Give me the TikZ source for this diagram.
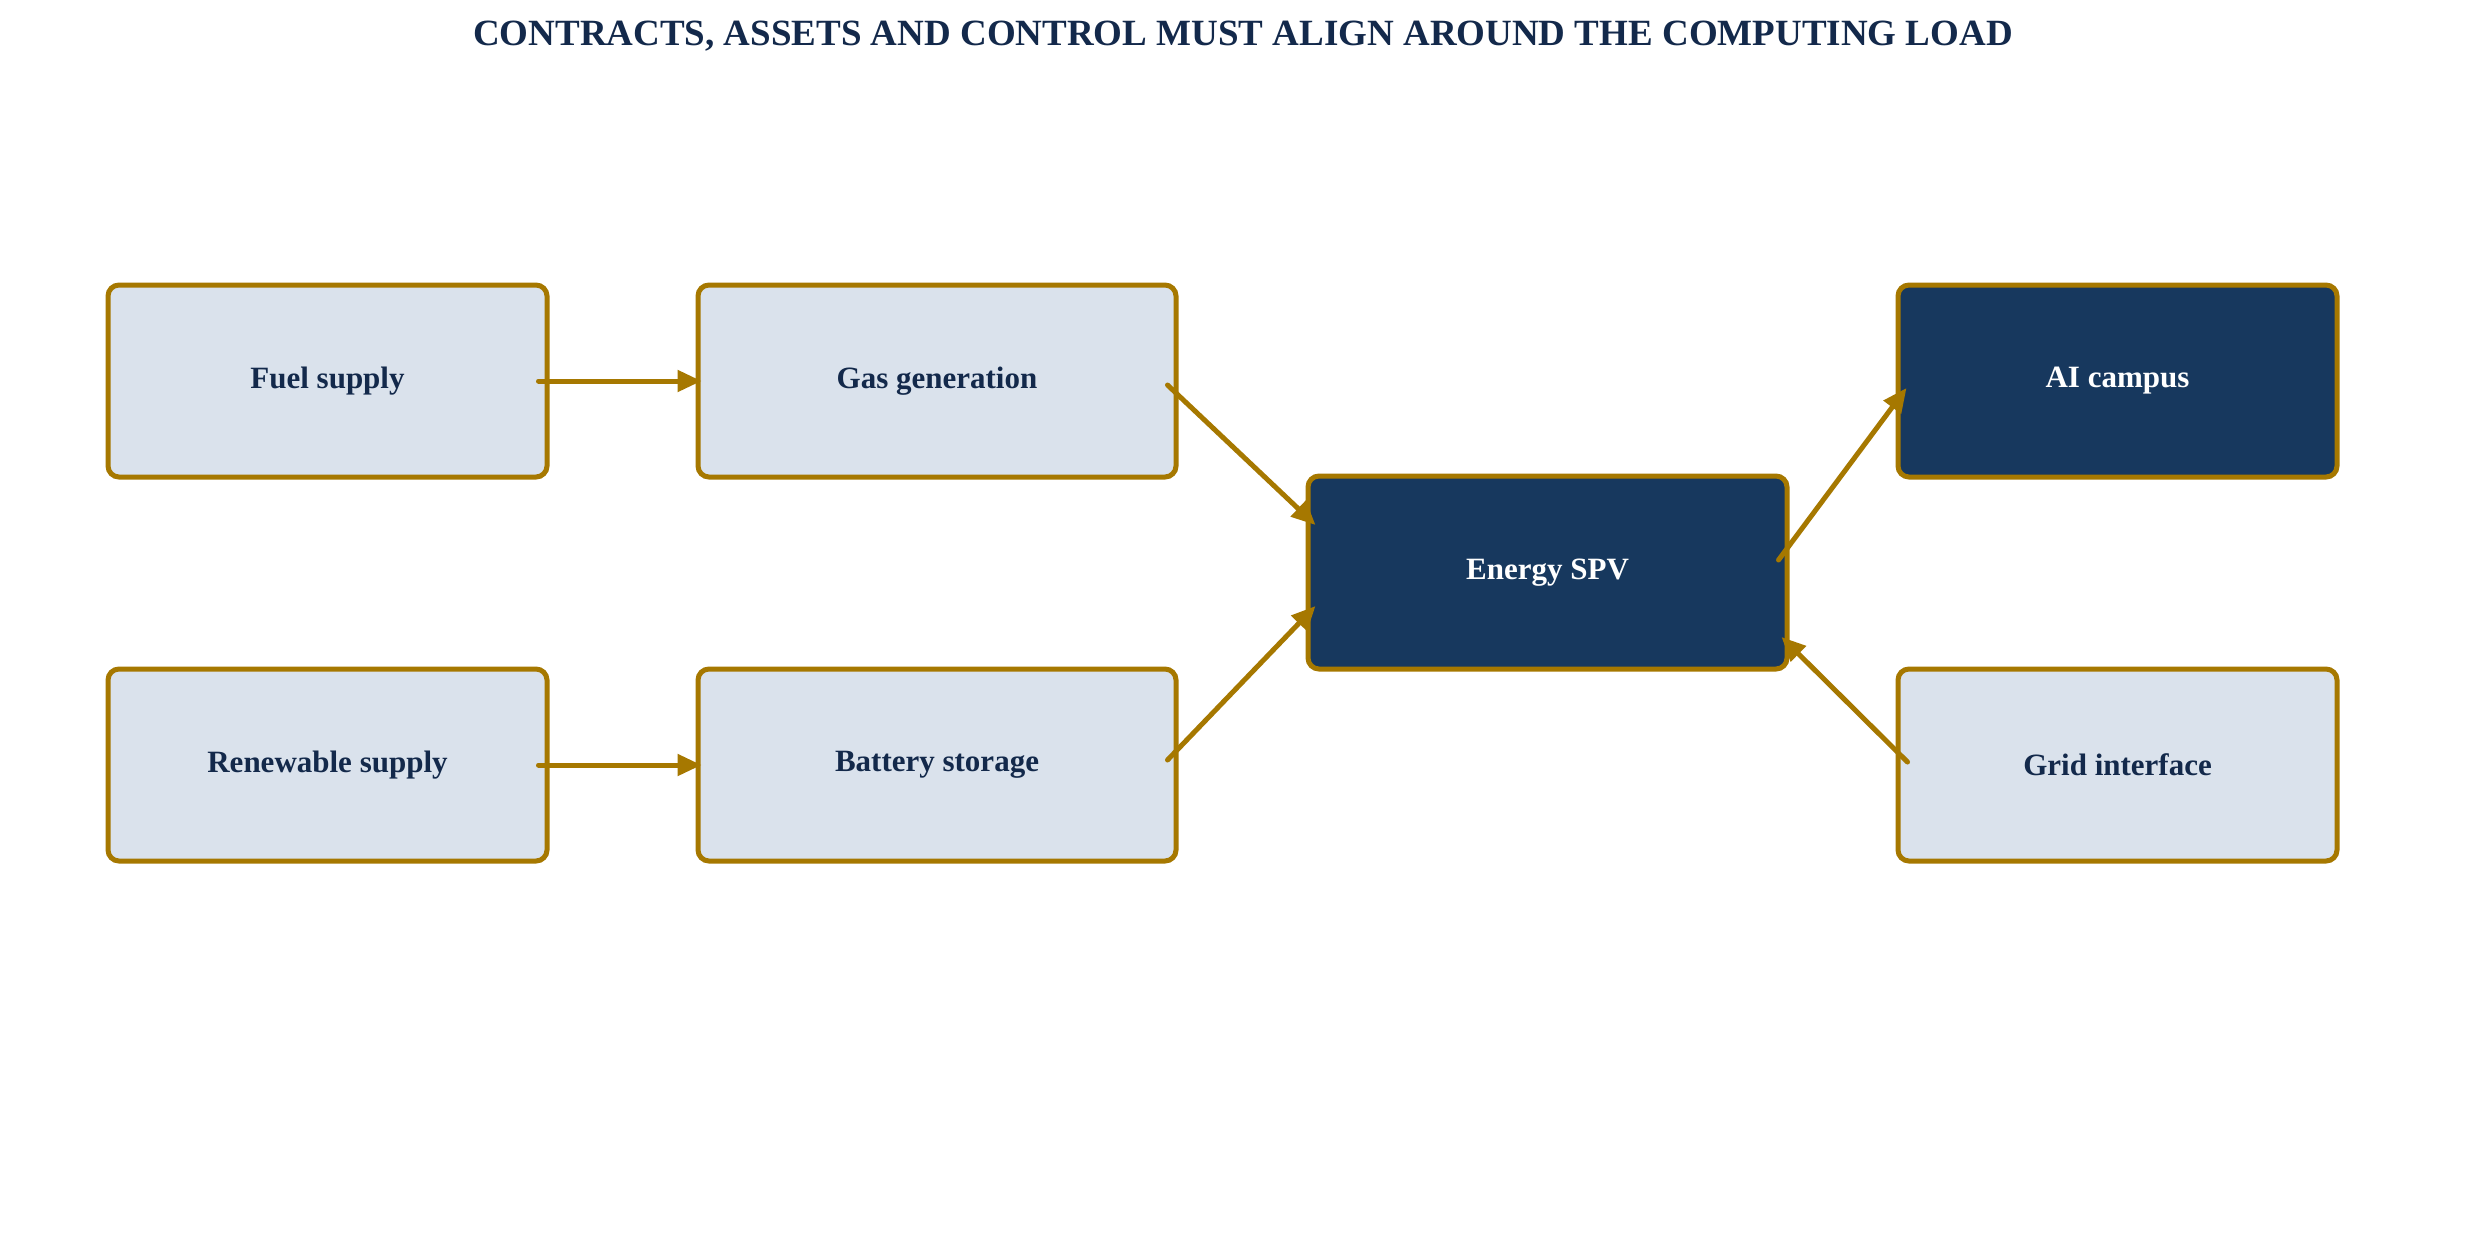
\documentclass[tikz,border=0pt]{standalone}
\usepackage{fontspec}
\setmainfont{Liberation Serif}
\usetikzlibrary{arrows.meta,calc}
\definecolor{gold}{HTML}{A67800}
\definecolor{navy}{HTML}{17385E}
\definecolor{lightbox}{HTML}{DAE2EC}
\definecolor{txtdark}{HTML}{13294B}
\tikzset{
  lightnode/.style={draw=gold, line width=5pt, rounded corners=11pt, fill=lightbox,
    minimum height=192pt, inner sep=0pt, text=txtdark,
    font=\fontsize{31}{36}\selectfont\bfseries},
  darknode/.style={lightnode, fill=navy, text=white},
  flow/.style={draw=gold, line width=5pt, line cap=round,
    -{Triangle[length=24pt,width=21pt]}},
}
\begin{document}
\begin{tikzpicture}[x=1pt,y=-1pt]
\useasboundingbox (0,0) rectangle (2486,1254);
\fill[white] (0,0) rectangle (2486,1254);
\node[font=\fontsize{37}{42}\selectfont\bfseries, text=txtdark] (title) at (1243,36) {CONTRACTS, ASSETS AND CONTROL MUST ALIGN AROUND THE COMPUTING LOAD};
\node[lightnode, minimum width=439pt] (fuel) at (327.5,381) {Fuel supply};
\node[lightnode, minimum width=478pt] (gas) at (937,381) {Gas generation};
\node[darknode, minimum width=479pt, minimum height=193pt] (spv) at (1547.5,572.5) {Energy SPV};
\node[darknode, minimum width=439pt] (ai) at (2117.5,381) {AI campus};
\node[lightnode, minimum width=439pt] (ren) at (327.5,765) {Renewable supply};
\node[lightnode, minimum width=478pt] (bat) at (937,765) {Battery storage};
\node[lightnode, minimum width=439pt] (grid) at (2117.5,765) {Grid interface};
\draw[flow] ($(fuel.east)+(-11,0)$) -- ($(gas.west)+(6,0)$);
\draw[flow] ($(ren.east)+(-11,0)$) -- ($(bat.west)+(6,0)$);
\draw[flow] ($(gas.east)+(-11,4)$) -- ($(spv.west)+(10,-47.5)$);
\draw[flow] ($(bat.east)+(-11,-5)$) -- ($(spv.west)+(10,33.5)$);
\draw[flow] ($(spv.east)+(-11,-12.5)$) -- ($(ai.west)+(11,7)$);
\draw[flow] ($(grid.west)+(12,-3)$) -- ($(spv.east)+(-8,64.5)$);
\end{tikzpicture}
\end{document}
